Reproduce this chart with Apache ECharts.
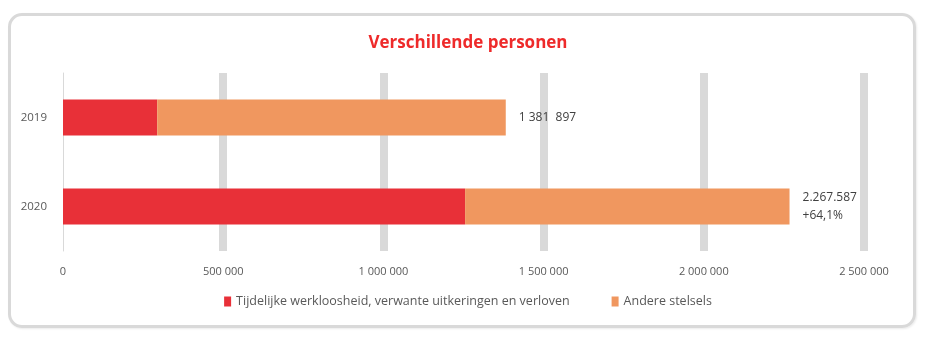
<!DOCTYPE html>
<html><head><meta charset="utf-8">
<script src="https://cdn.jsdelivr.net/npm/echarts@6/dist/echarts.min.js"></script>
<style>
html,body{margin:0;padding:0;background:#fff;}
#frame{position:absolute;left:8px;top:13px;width:902px;height:309px;border:3px solid #d9d9d9;border-radius:14px;box-sizing:content-box;box-shadow:1px 1px 2px rgba(0,0,0,0.08);}
#chart{position:absolute;left:0;top:0;width:936px;height:339px;}
</style></head>
<body>
<div id="frame"></div>
<div id="chart"></div>
<script>
const title = 'Verschillende personen';
const categories = ['2019', '2020'];
const seriesNames = ['Tijdelijke werkloosheid, verwante uitkeringen en verloven', 'Andere stelsels'];
const tijdelijke = [294000, 1255000];
const andere = [1087897, 1012587];
const totalLabels = ['1 381  897', '2.267.587\n+64,1%'];
const tickLabels = {0:'0', 500000:'500 000', 1000000:'1 000 000', 1500000:'1 500 000', 2000000:'2 000 000', 2500000:'2 500 000'};

const chart = echarts.init(document.getElementById('chart'), null, {renderer:'canvas'});
const font = '"Open Sans", "Noto Sans", sans-serif';
chart.setOption({
  animation:false,
  title:{text:title, left:'center', top:30, textStyle:{color:'#ee2a2a', fontSize:17, fontWeight:'bold', fontFamily:font}},
  grid:{left:63, right:72, top:73, bottom:88, containLabel:false},
  legend:{bottom:26, left:'center', itemWidth:7, itemHeight:10, itemGap:42, icon:'rect',
    textStyle:{color:'#595959', fontSize:12.5, fontFamily:font}, data:seriesNames},
  xAxis:{type:'value', min:0, max:2500000, interval:500000,
    axisLine:{show:false}, axisTick:{show:false},
    axisLabel:{color:'#595959', fontSize:11, fontFamily:font, margin:15, formatter:v=>tickLabels[v]},
    splitLine:{show:true, lineStyle:{width:8, color:['rgba(0,0,0,0)','#d9d9d9','#d9d9d9','#d9d9d9','#d9d9d9','#d9d9d9']}}},
  yAxis:{type:'category', data:categories, inverse:true,
    axisLine:{show:true, lineStyle:{color:'#d9d9d9', width:1}}, axisTick:{show:false},
    axisLabel:{color:'#595959', fontSize:11.5, fontFamily:font, margin:16}},
  series:[
    {name:seriesNames[0], type:'bar', stack:'t', data:tijdelijke, barWidth:36, itemStyle:{color:'#e83038'}},
    {name:seriesNames[1], type:'bar', stack:'t', data:andere, barWidth:36, itemStyle:{color:'#f0975f'},
      label:{show:true, position:'right', distance:13, color:'#404040', fontSize:12, fontFamily:font, lineHeight:18, align:'left',
        formatter:p=>totalLabels[p.dataIndex]}}
  ]
});
</script>
</body></html>
